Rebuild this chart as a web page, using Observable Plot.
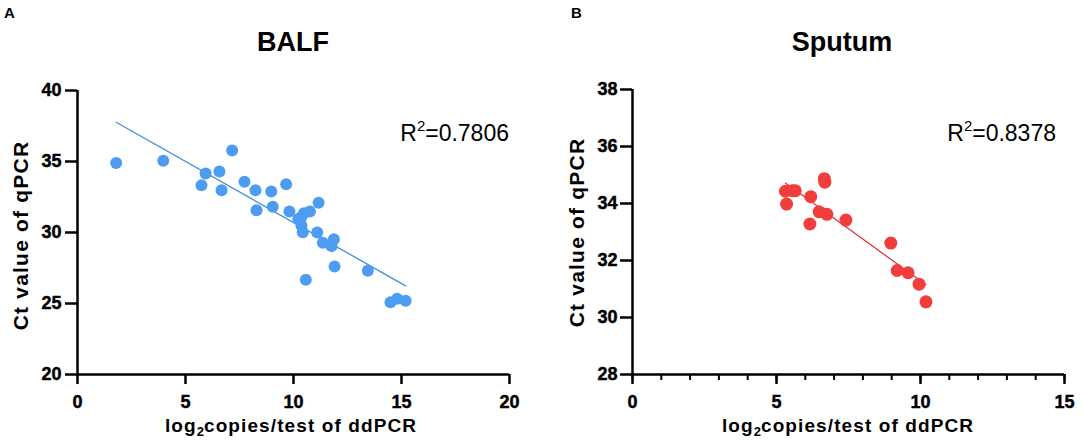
<!DOCTYPE html>
<html>
<head>
<meta charset="utf-8">
<script src="https://cdn.jsdelivr.net/npm/d3@7"></script>
<script src="https://cdn.jsdelivr.net/npm/@observablehq/plot@0.6"></script>
<style>
  html, body { margin: 0; padding: 0; background: #fff; }
  #wrap { position: relative; width: 1084px; height: 448px; overflow: hidden; font-family: "Liberation Sans", Arial, sans-serif; color: #000; }
  .panel { position: absolute; top: 0; width: 542px; height: 448px; }
  .panel svg { position: absolute; left: 0; top: 0; }
  .panel svg text { font-weight: bold !important; font-size: 18px !important; font-family: "Liberation Sans", Arial, sans-serif !important; fill: #000; stroke: #000; stroke-width: 0.45px; }
  .txt { position: absolute; line-height: 1; white-space: nowrap; }
  .letter { font-weight: bold; font-size: 15px; }
  .title { font-weight: bold; font-size: 27px; width: 300px; text-align: center; }
  .r2 { font-size: 23px; width: 200px; text-align: right; }
  .r2 sup { font-size: 15px; vertical-align: 0; position: relative; top: -10px; }
  .xlab { font-weight: bold; font-size: 19px; letter-spacing: 1.1px; width: 400px; text-align: center; }
  .xlab sub { font-size: 13px; vertical-align: 0; position: relative; top: 4px; letter-spacing: 0; }
  .ylab { font-weight: bold; font-size: 21px; letter-spacing: 1.2px; width: 300px; text-align: center; transform: rotate(-90deg); }
</style>
</head>
<body>
<div id="wrap"></div>
<script>
// ---- Data ----
const balfX = [1.79, 3.97, 5.93, 5.74, 6.57, 6.67, 7.16, 7.73, 8.24, 8.29, 8.97, 9.04, 9.66, 9.81, 10.35, 10.48, 10.76, 11.16, 10.37, 10.43, 11.10, 11.36, 11.87, 11.76, 11.90, 10.57, 13.44, 14.49, 14.80, 15.19, 10.22];
const balfY = [34.90, 35.05, 34.15, 33.33, 34.30, 32.98, 35.77, 33.57, 32.98, 31.57, 32.89, 31.81, 33.40, 31.48, 31.08, 31.36, 31.48, 32.09, 30.49, 30.02, 30.00, 29.27, 29.53, 29.04, 27.60, 26.67, 27.30, 25.09, 25.33, 25.20, 30.95];

const sputumX = [5.31, 5.55, 5.65, 5.35, 6.19, 6.16, 6.66, 6.68, 6.48, 6.75, 7.41, 8.97, 9.19, 9.57, 9.95, 10.19];
const sputumY = [34.43, 34.45, 34.45, 33.98, 34.24, 33.28, 34.87, 34.75, 33.71, 33.62, 33.42, 32.61, 31.65, 31.57, 31.17, 30.55];

const balfXTicks = [0, 5, 10, 15, 20];
const balfYTicks = [20, 25, 30, 35, 40];
const sputumXTicks = [0, 5, 10, 15];
const sputumXMinor = d3.range(0, 16, 1);
const sputumYTicks = [28, 30, 32, 34, 36, 38];

const titles = ["BALF", "Sputum"];
const letters = ["A", "B"];
const r2Values = ["0.7806", "0.8378"];

// ---- Helpers ----
const wrap = document.getElementById("wrap");

function toRows(xs, ys) { return xs.map((x, i) => ({x, y: ys[i]})); }

function makePanel(cfg) {
  const panel = document.createElement("div");
  panel.className = "panel";
  panel.style.left = cfg.left + "px";
  wrap.appendChild(panel);

  const rows = toRows(cfg.xs, cfg.ys);
  const marks = [
    Plot.ruleX([cfg.xDomain[0]], {stroke: "#000", strokeWidth: 2.5}),
    Plot.ruleY([cfg.yDomain[0]], {stroke: "#000", strokeWidth: 2.5}),
    Plot.axisY({ticks: cfg.yTicks, tickSize: 12, tickPadding: cfg.yPad, strokeWidth: 2.5, label: null, fontWeight: "bold", fontSize: 18}),
    Plot.axisX({ticks: cfg.xTicks, tickSize: 10, tickPadding: 11, strokeWidth: 2.5, label: null, fontWeight: "bold", fontSize: 18})
  ];
  if (cfg.xMinor) {
    marks.push(Plot.axisX({ticks: cfg.xMinor, tickSize: 6, strokeWidth: 2, text: null, label: null}));
  }
  marks.push(Plot.linearRegressionY(rows, {x: "x", y: "y", ci: 0, stroke: cfg.lineColor, strokeWidth: 1.3}));
  marks.push(Plot.dot(rows, {x: "x", y: "y", r: cfg.r, fill: cfg.dotColor, stroke: "none"}));

  const svg = Plot.plot({
    width: 542,
    height: 448,
    marginLeft: cfg.mL,
    marginRight: cfg.mR,
    marginTop: cfg.mT,
    marginBottom: 74,
    style: {fontFamily: '"Liberation Sans", Arial, sans-serif', fontSize: "18px", fontWeight: "bold", color: "#000", background: "transparent", overflow: "visible"},
    x: {domain: cfg.xDomain, axis: null},
    y: {domain: cfg.yDomain, axis: null},
    marks
  });
  d3.select(svg).selectAll("text")
    .attr("font-weight", "bold")
    .attr("font-size", 18)
    .style("font-weight", "bold");
  panel.appendChild(svg);

  const add = (cls, html, css) => {
    const d = document.createElement("div");
    d.className = "txt " + cls;
    d.innerHTML = html;
    Object.assign(d.style, css);
    panel.appendChild(d);
  };
  // baseline ≈ top + 0.8465 * fontSize for Liberation Sans with line-height 1
  add("letter", cfg.letter, {left: cfg.letterX + "px", top: (18 - 0.8465 * 15) + "px"});
  add("title", cfg.title, {left: (cfg.titleCx - 150) + "px", top: (52 - 0.8465 * 27) + "px"});
  add("r2", "R<sup>2</sup>=" + cfg.r2, {left: (cfg.r2Right - 200) + "px", top: (141.7 - 0.8465 * 23) + "px"});
  add("xlab", "log<sub>2</sub>copies/test of ddPCR", {left: (cfg.xlabCx - 200) + "px", top: (432 - 0.8465 * 19) + "px"});
  add("ylab", "Ct value of qPCR", {left: (cfg.ylabCx - 150) + "px", top: (cfg.ylabCy - 10.5) + "px"});
}

makePanel({
  left: 0, xs: balfX, ys: balfY,
  xDomain: [0, 20], yDomain: [20, 40],
  xTicks: balfXTicks, yTicks: balfYTicks, yPad: 4,
  mL: 77, mR: 33, mT: 90,
  dotColor: "#4e9cf2", lineColor: "#3d8ede", r: 6,
  letter: letters[0], letterX: 4, title: titles[0], titleCx: 293,
  r2: r2Values[0], r2Right: 509, xlabCx: 291, ylabCx: 20, ylabCy: 235
});

makePanel({
  left: 542, xs: sputumX, ys: sputumY,
  xDomain: [0, 15], yDomain: [28, 38],
  xTicks: sputumXTicks, xMinor: sputumXMinor, yTicks: sputumYTicks, yPad: 3,
  mL: 90, mR: 20, mT: 89,
  dotColor: "#f23d3d", lineColor: "#e0383a", r: 6.5,
  letter: letters[1], letterX: 29, title: titles[1], titleCx: 300,
  r2: r2Values[1], r2Right: 514, xlabCx: 306, ylabCx: 34, ylabCy: 232
});
</script>
</body>
</html>
